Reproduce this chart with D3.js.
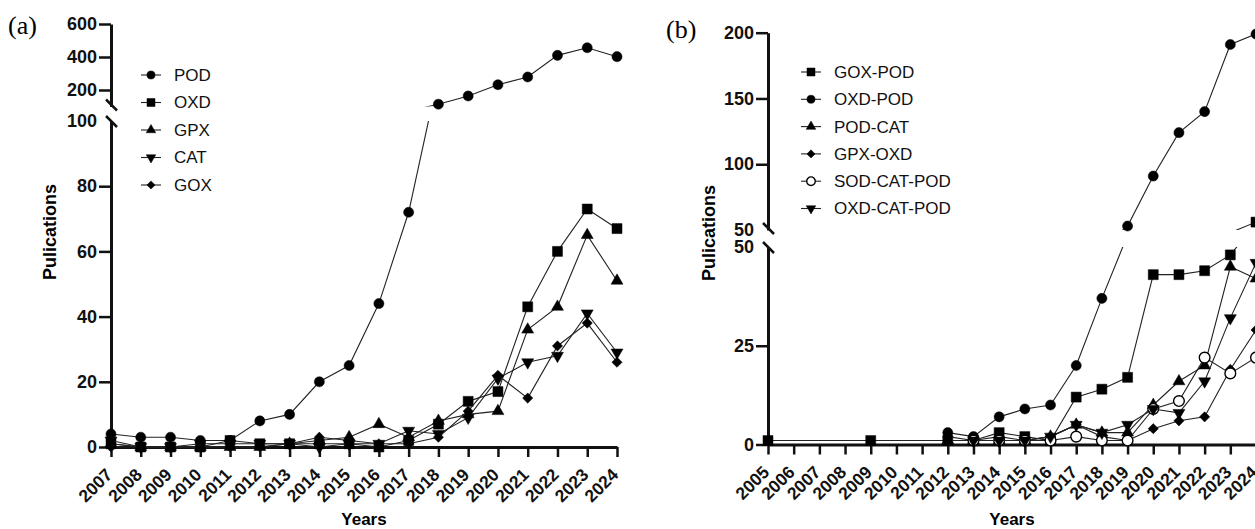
<!DOCTYPE html>
<html>
<head>
<meta charset="utf-8">
<script src="https://cdn.jsdelivr.net/npm/d3@7"></script>
<style>
  body { margin: 0; background: #fff; }
  svg { display: block; font-family: "Liberation Sans", Arial, sans-serif; }
  .axis path, .axis line { stroke: #111; }
  .axis text { font-family: "Liberation Sans", Arial, sans-serif; font-weight: bold; font-size: 18px; fill: #111; }
  .axis.xa text { font-size: 17.5px; }
</style>
</head>
<body>
<svg id="chart" width="1255" height="529"></svg>
<script>
// ---- panel (a) data ----
var yearsA = [2007, 2008, 2009, 2010, 2011, 2012, 2013, 2014, 2015, 2016, 2017, 2018, 2019, 2020, 2021, 2022, 2023, 2024];
var namesA = ["POD", "OXD", "GPX", "CAT", "GOX"];
var podA = [4, 3, 3, 2, 2, 8, 10, 20, 25, 44, 72, 114, 164, 232, 279, 410, 456, 402];
var oxdA = [1, 0, 0, 0, 2, 1, 1, 1, 1, 0, 2, 7, 14, 17, 43, 60, 73, 67];
var gpxA = [1, 0, 0, 0, 0, 0, 1, 2, 3, 7, 3, 8, 10, 11, 36, 43, 65, 51];
var catA = [2, 0, 0, 1, 1, 1, 1, 0, 1, 1, 5, 4, 9, 21, 26, 28, 41, 29];
var goxA = [0, 0, 0, 0, 0, 0, 1, 3, 2, 1, 1, 3, 11, 22, 15, 31, 38, 26];
var lowTicksA = [0, 20, 40, 60, 80, 100];
var highTicksA = [200, 400, 600];

// ---- panel (b) data ----
var yearsB = [2005, 2006, 2007, 2008, 2009, 2010, 2011, 2012, 2013, 2014, 2015, 2016, 2017, 2018, 2019, 2020, 2021, 2022, 2023, 2024];
var namesB = ["GOX-POD", "OXD-POD", "POD-CAT", "GPX-OXD", "SOD-CAT-POD", "OXD-CAT-POD"];
var goxPodB = [1, null, null, null, 1, null, null, 1, 1, 3, 2, 1, 12, 14, 17, 43, 43, 44, 48, 56];
var oxdPodB = [null, null, null, null, null, null, null, 3, 2, 7, 9, 10, 20, 37, 53, 91, 124, 140, 191, 199];
var podCatB = [null, null, null, null, null, null, null, 1, 1, 1, 1, 2, 5, 3, 3, 10, 16, 20, 45, 42];
var gpxOxdB = [null, null, null, null, null, null, null, 2, 1, 2, 1, 2, 5, 2, 1, 4, 6, 7, 19, 29];
var sodCatPodB = [null, null, null, null, null, null, null, null, 1, 1, 1, 1, 2, 1, 1, 9, 11, 22, 18, 22];
var oxdCatPodB = [null, null, null, null, null, null, null, null, 1, 1, 1, 2, 5, 3, 5, 9, 8, 16, 32, 46];
var lowTicksB = [0, 25, 50];
var highTicksB = [50, 100, 150, 200];

var svg = d3.select("#chart");
var FONT = "Liberation Sans, Arial, sans-serif";

/* marker shapes, same order as GraphPad default */
function marker(sel, kind, big) {
  var k = big ? 1 : 0.8;
  var shapes = {
    circle:   {t: d3.symbolCircle,   s: 80,  r: 0},
    square:   {t: d3.symbolSquare,   s: 100, r: 0},
    triangle: {t: d3.symbolTriangle, s: 62,  r: 0},
    down:     {t: d3.symbolTriangle, s: 62,  r: 180},
    diamond:  {t: d3.symbolSquare,   s: 52,  r: 45},
    open:     {t: d3.symbolCircle,   s: 90,  r: 0}
  };
  var sh = shapes[kind];
  sel.append("path")
      .attr("d", d3.symbol().type(sh.t).size(sh.s * k * k)())
      .attr("transform", function(d) { return "translate(" + d[0] + "," + d[1] + ") rotate(" + sh.r + ")"; })
      .attr("fill", kind == "open" ? "#fff" : "#000")
      .attr("stroke", "#000")
      .attr("stroke-width", kind == "open" ? 1.4 : 0.5);
}

function drawPanel(cfg) {
  var g = svg.append("g");

  var x = d3.scaleLinear().domain([cfg.years[0], cfg.years[cfg.years.length - 1]]).range([cfg.x0, cfg.x1]);
  var yLow = d3.scaleLinear().domain([0, cfg.lowMax]).range([cfg.yBase, cfg.yLowTop]);
  var yHigh = d3.scaleLinear().domain([cfg.highMin, cfg.highMax]).range([cfg.yHighBot, cfg.yTop]);

  /* clip regions for the two halves of the broken axis */
  var defs = svg.append("defs");
  defs.append("clipPath").attr("id", cfg.id + "-low")
    .append("rect").attr("x", cfg.x0).attr("y", cfg.yLowTop).attr("width", 1255 - cfg.x0).attr("height", cfg.yBase - cfg.yLowTop + 10);
  defs.append("clipPath").attr("id", cfg.id + "-high")
    .append("rect").attr("x", cfg.x0).attr("y", 0).attr("width", 1255 - cfg.x0).attr("height", cfg.yHighBot);

  /* x axis */
  var xAxis = g.append("g")
      .attr("class", "axis xa")
      .attr("transform", "translate(0," + cfg.yBase + ")")
      .call(d3.axisBottom(x).tickValues(cfg.years).tickFormat(d3.format("d")).tickSize(10).tickSizeOuter(0))
      .attr("font-family", FONT);
  xAxis.select(".domain").attr("stroke-width", 3);
  xAxis.selectAll(".tick line").attr("stroke-width", 2.5);
  xAxis.selectAll("text")
      .attr("y", 0).attr("x", 0).attr("dy", "0.71em")
      .attr("transform", "translate(-7,20) rotate(-45)")
      .style("text-anchor", "end");

  /* lower y axis */
  var yAxisLow = g.append("g")
      .attr("class", "axis")
      .attr("transform", "translate(" + cfg.x0 + ",0)")
      .call(d3.axisLeft(yLow).tickValues(cfg.lowTicks).tickSize(12).tickPadding(2).tickSizeOuter(0))
      .attr("font-family", FONT);
  yAxisLow.select(".domain").attr("stroke-width", 3);
  yAxisLow.selectAll(".tick line").attr("stroke-width", 2.5)
      .attr("opacity", function(d) { return d == cfg.lowMax ? 0 : 1; });

  /* upper y axis */
  var yAxisHigh = g.append("g")
      .attr("class", "axis")
      .attr("transform", "translate(" + cfg.x0 + ",0)")
      .call(d3.axisLeft(yHigh).tickValues(cfg.highTicks).tickSize(12).tickPadding(2).tickSizeOuter(0))
      .attr("font-family", FONT);
  yAxisHigh.select(".domain").attr("stroke-width", 3);
  yAxisHigh.selectAll(".tick line").attr("stroke-width", 2.5)
      .attr("opacity", function(d) { return d == cfg.highMin ? 0 : 1; });

  /* break marks */
  [cfg.yHighBot - 1, cfg.yLowTop + 1].forEach(function(yy) {
    g.append("line")
        .attr("x1", cfg.x0 - 5).attr("y1", yy - 6)
        .attr("x2", cfg.x0 + 6).attr("y2", yy + 5)
        .attr("stroke", "#111").attr("stroke-width", 2.5);
  });

  /* axis titles */
  g.append("text")
      .attr("transform", "translate(" + cfg.titleX + "," + cfg.titleY + ") rotate(-90)")
      .attr("text-anchor", "middle")
      .attr("font-weight", "bold").attr("font-size", 18)
      .text("Pulications");
  g.append("text")
      .attr("x", (cfg.x0 + cfg.x1) / 2).attr("y", 525)
      .attr("text-anchor", "middle")
      .attr("font-weight", "bold").attr("font-size", 17)
      .text("Years");
  g.append("text")
      .attr("x", cfg.tagX).attr("y", cfg.tagY)
      .attr("font-family", "Liberation Serif, Times New Roman, serif").attr("font-size", 26)
      .text(cfg.tag);

  /* series */
  cfg.series.forEach(function(s) {
    var pts = cfg.years.map(function(yr, i) { return {year: yr, v: s.values[i]}; })
        .filter(function(d) { return d.v != null; });

    var lineLow = d3.line().x(function(d) { return x(d.year); }).y(function(d) { return yLow(d.v); });
    var lineHigh = d3.line().x(function(d) { return x(d.year); }).y(function(d) { return yHigh(d.v); });

    g.append("path").datum(pts)
        .attr("d", lineLow)
        .attr("clip-path", "url(#" + cfg.id + "-low)")
        .attr("fill", "none").attr("stroke", "#222").attr("stroke-width", 1.1);
    if (d3.max(pts, function(d) { return d.v; }) > cfg.lowMax) {
      g.append("path").datum(pts)
          .attr("d", lineHigh)
          .attr("clip-path", "url(#" + cfg.id + "-high)")
          .attr("fill", "none").attr("stroke", "#222").attr("stroke-width", 1.1);
    }

    var mg = g.append("g");
    pts.forEach(function(d) {
      var yy = d.v > cfg.lowMax ? yHigh(d.v) : yLow(d.v);
      marker(mg.append("g").datum([x(d.year), yy]), s.kind, true);
    });
  });

  /* legend */
  cfg.series.forEach(function(s, i) {
    var ly = cfg.legY + i * cfg.legStep;
    g.append("line")
        .attr("x1", cfg.legX - 10).attr("x2", cfg.legX + 10)
        .attr("y1", ly).attr("y2", ly)
        .attr("stroke", "#222").attr("stroke-width", 1.1);
    marker(g.append("g").datum([cfg.legX, ly]), s.kind, false);
    g.append("text")
        .attr("x", cfg.legX + 23).attr("y", ly)
        .attr("dy", "0.35em")
        .attr("font-size", 17)
        .attr("fill", "#111")
        .text(s.name);
  });
}

drawPanel({
  id: "pa", tag: "(a)", tagX: 8, tagY: 34,
  years: yearsA,
  x0: 111, x1: 617,
  yBase: 447, yLowTop: 121, lowMax: 100, lowTicks: lowTicksA,
  yHighBot: 106.5, yTop: 24, highMin: 100, highMax: 600, highTicks: highTicksA,
  titleX: 56, titleY: 232,
  legX: 151, legY: 75, legStep: 27.5,
  series: [
    {name: namesA[0], kind: "circle", values: podA},
    {name: namesA[1], kind: "square", values: oxdA},
    {name: namesA[2], kind: "triangle", values: gpxA},
    {name: namesA[3], kind: "down", values: catA},
    {name: namesA[4], kind: "diamond", values: goxA}
  ]
});

drawPanel({
  id: "pb", tag: "(b)", tagX: 666, tagY: 38,
  years: yearsB,
  x0: 768, x1: 1256,
  yBase: 444.5, yLowTop: 247, lowMax: 50, lowTicks: lowTicksB,
  yHighBot: 230, yTop: 32.7, highMin: 50, highMax: 200, highTicks: highTicksB,
  titleX: 715, titleY: 233,
  legX: 811, legY: 72, legStep: 27.3,
  series: [
    {name: namesB[0], kind: "square", values: goxPodB},
    {name: namesB[1], kind: "circle", values: oxdPodB},
    {name: namesB[2], kind: "triangle", values: podCatB},
    {name: namesB[3], kind: "diamond", values: gpxOxdB},
    {name: namesB[4], kind: "open", values: sodCatPodB},
    {name: namesB[5], kind: "down", values: oxdCatPodB}
  ]
});
</script>
</body>
</html>
